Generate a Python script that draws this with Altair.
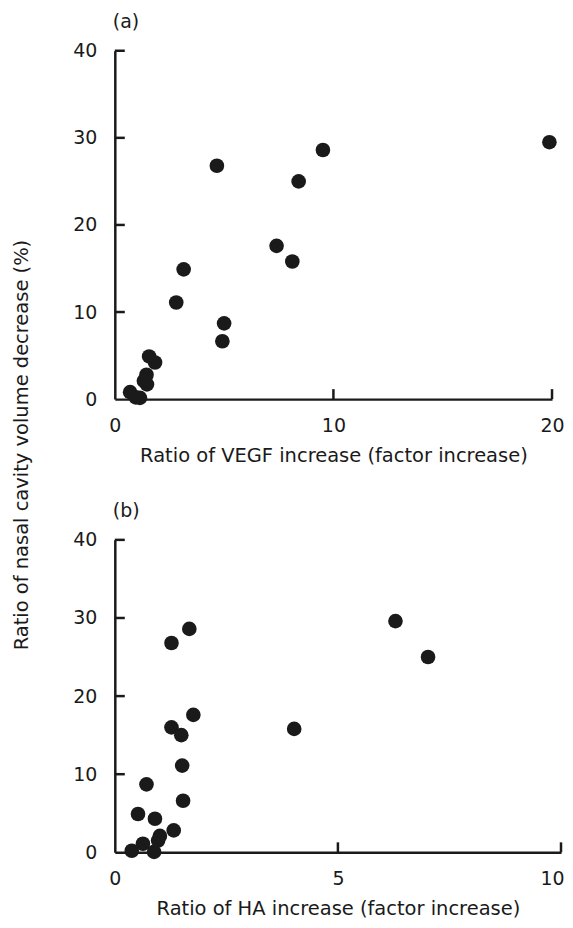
import altair as alt
import pandas as pd

# Panel (a): VEGF
a_x = [4.67, 9.52, 8.41, 19.88, 7.40, 8.12, 3.15, 2.81, 5.00, 4.92, 1.57, 1.84, 1.45, 1.33, 1.47, 0.70, 0.96, 1.15]
a_y = [26.8, 28.6, 25.0, 29.5, 17.6, 15.8, 14.9, 11.1, 8.7, 6.65, 4.9, 4.2, 2.8, 2.1, 1.7, 0.8, 0.2, 0.15]
# Panel (b): HA
b_x = [1.27, 1.67, 6.29, 7.02, 1.76, 1.27, 1.49, 4.02, 1.51, 0.71, 1.53, 0.52, 0.90, 1.32, 1.01, 0.97, 0.63, 0.38, 0.88]
b_y = [26.8, 28.6, 29.6, 25.0, 17.6, 16.0, 15.0, 15.8, 11.1, 8.7, 6.6, 4.9, 4.3, 2.8, 2.1, 1.5, 1.1, 0.2, 0.05]

y_ticks = [10, 20, 30, 40]
a_xticks = [10, 20]
b_xticks = [5, 10]
y_title = "Ratio of nasal cavity volume decrease (%)"
a_xtitle = "Ratio of VEGF increase (factor increase)"
b_xtitle = "Ratio of HA increase (factor increase)"

FONT = "DejaVu Sans"
INK = "#1a1a1a"


def panel(xs, ys, xmax, xticks, xtitle, label, w, h, edge_label=None):
    df = pd.DataFrame({"x": xs, "y": ys})
    xsc = alt.Scale(domain=[0, xmax], nice=False, zero=True)
    ysc = alt.Scale(domain=[0, 40], nice=False)
    extra = {}
    if edge_label is not None:
        extra["labelAlign"] = {"condition": {"test": f"datum.value == {edge_label}", "value": "right"},
                               "value": "center"}
        extra["labelOffset"] = {"condition": {"test": f"datum.value == {edge_label}", "value": 3},
                                "value": 0}
    xaxis = alt.Axis(values=[0] + xticks, grid=False, ticks=False, domainColor=INK,
                     domainWidth=2.5, labelFont=FONT, labelFontSize=19, labelColor=INK,
                     labelPadding=17, labelFlush=False, title=xtitle, titleFont=FONT,
                     titleFontSize=19.5, titleFontWeight="normal", titleColor=INK, titlePadding=11,
                     **extra)
    yaxis = alt.Axis(values=[0] + y_ticks, grid=False, ticks=False, domainColor=INK,
                     domainWidth=2.5, labelFont=FONT, labelFontSize=19, labelColor=INK,
                     labelPadding=18, title=None)
    pts = alt.Chart(df).mark_circle(size=215, color=INK, opacity=1).encode(
        x=alt.X("x:Q", scale=xsc, axis=xaxis),
        y=alt.Y("y:Q", scale=ysc, axis=yaxis),
    )
    yt = alt.Chart(pd.DataFrame({"v": y_ticks})).mark_rule(color=INK, strokeWidth=2.5).encode(
        y=alt.Y("v:Q", scale=ysc), x=alt.value(0), x2=alt.value(10)
    )
    xt = alt.Chart(pd.DataFrame({"v": xticks})).mark_rule(color=INK, strokeWidth=2.5).encode(
        x=alt.X("v:Q", scale=xsc), y=alt.value(h), y2=alt.value(h - 10)
    )
    return alt.layer(yt, xt, pts).properties(
        width=w, height=h,
        title=alt.TitleParams(label, anchor="start", frame="group", font=FONT, fontSize=19,
                              fontWeight="normal", color=INK, offset=10, dx=-2),
    )


pa = panel(a_x, a_y, 20, a_xticks, a_xtitle, "(a)", 438, 349)
pb = panel(b_x, b_y, 10, b_xticks, b_xtitle, "(b)", 447, 313, edge_label=10)

ylab = alt.Chart(pd.DataFrame({"t": [y_title]})).mark_text(
    angle=270, font=FONT, fontSize=19.5, color=INK, align="center", baseline="middle"
).encode(text="t:N", x=alt.value(14), y=alt.value(395)).properties(width=30, height=880)

chart = alt.hconcat(ylab, alt.vconcat(pa, pb, spacing=37), spacing=34).properties(
    padding={"top": 4, "left": 0, "right": 0, "bottom": 0}
).configure_view(stroke=None)

chart.save("out.html", embed_options={"renderer": "svg", "actions": False})
